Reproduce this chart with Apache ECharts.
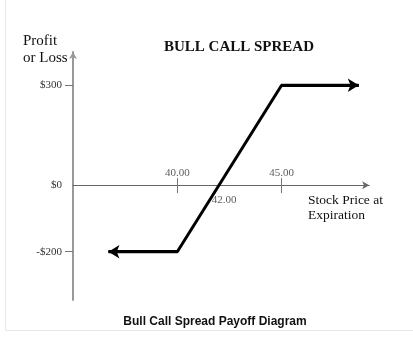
<!DOCTYPE html>
<html>
<head>
<meta charset="utf-8">
<script src="https://cdn.jsdelivr.net/npm/echarts@6/dist/echarts.min.js"></script>
<style>html,body{margin:0;padding:0;background:#fff}#c{width:413px;height:348px}</style>
</head>
<body>
<div id="c"></div>
<script>
// Payoff path (stock price at expiration, profit/loss)
var priceX = [36.7, 40, 45, 48.7];
var payoff = [-200, -200, 300, 300];
// Tick values / labels
var yTickLabelValues = [300, 0, -200];
var yTickValues = [300, -200];
var xTopTickValues = [40, 45];
var xBottomLabelValues = [42];

var serif = 'Liberation Serif';
var chart = echarts.init(document.getElementById('c'));
var pts = priceX.map(function (x, i) { return [x, payoff[i]]; });

function money(v) { return v < 0 ? '-$' + (-v) : '$' + v; }
var tickLabelStyle = { fontFamily: serif, fontSize: 11, color: '#333' };

chart.setOption({
  animation: false,
  backgroundColor: '#fff',
  graphic: [{
    type: 'rect', silent: true,
    shape: { x: 5.5, y: -10, width: 430, height: 340.5 },
    style: { fill: 'none', stroke: '#e6e6e6', lineWidth: 1 }
  }],
  title: [
    { text: 'Profit\nor Loss', left: 18, top: 28, textStyle: { fontFamily: serif, fontSize: 15, fontWeight: 'normal', color: '#111', lineHeight: 17 } },
    { text: 'BULL CALL SPREAD', left: 234, top: 35, textAlign: 'center', textStyle: { fontFamily: serif, fontSize: 15, fontWeight: 'bold', color: '#111' } },
    { text: 'Stock Price at\nExpiration', left: 303, top: 188, textStyle: { fontFamily: serif, fontSize: 13.5, fontWeight: 'normal', color: '#111', lineHeight: 15 } },
    { text: 'Bull Call Spread Payoff Diagram', left: 210, top: 311, textAlign: 'center', textStyle: { fontFamily: 'Liberation Sans', fontSize: 12, fontWeight: 'bold', color: '#111' } }
  ],
  grid: { left: 73, right: 43.8, top: 52, bottom: 48, containLabel: false },
  xAxis: [{
    type: 'value', min: 35, max: 49.2, position: 'bottom',
    axisLine: { show: true, onZero: true, onZeroAxisIndex: 0, symbol: ['none', 'arrow'], symbolSize: [6, 7], lineStyle: { color: '#666', width: 1 } },
    axisTick: { show: true, customValues: xTopTickValues, length: 8, lineStyle: { color: '#777', width: 1 } },
    axisLabel: { show: false },
    splitLine: { show: false }
  }, {
    type: 'value', min: 35, max: 49.2, position: 'top',
    axisLine: { show: false, onZero: true, onZeroAxisIndex: 0 },
    axisTick: { show: true, customValues: xTopTickValues, length: 7, lineStyle: { color: '#777', width: 1 } },
    axisLabel: { show: false },
    splitLine: { show: false }
  }],
  yAxis: {
    type: 'value', min: -345, max: 400,
    axisLine: { show: true, onZero: false, symbol: ['none', 'arrow'], symbolSize: [6, 7], lineStyle: { color: '#999', width: 2 } },
    axisTick: { show: true, customValues: yTickValues, length: 8, lineStyle: { color: '#777', width: 1 } },
    axisLabel: { show: true, customValues: yTickLabelValues, margin: 11, fontFamily: serif, fontSize: 11, color: '#333', formatter: money },
    splitLine: { show: false }
  },
  series: [{
    type: 'line', xAxisIndex: 0, data: pts, showSymbol: false, symbol: 'none', clip: false,
    lineStyle: { color: '#000', width: 3 },
    markLine: {
      silent: true, animation: false,
      lineStyle: { color: '#000', width: 3, type: 'solid' },
      label: { show: false },
      symbolSize: [10, 11],
      data: [
        [{ coord: pts[0], symbol: 'arrow' }, { coord: pts[1], symbol: 'none' }],
        [{ coord: pts[2], symbol: 'none' }, { coord: pts[3], symbol: 'arrow' }]
      ]
    }
  }, {
    type: 'scatter', xAxisIndex: 0, silent: true, symbolSize: 0,
    data: xTopTickValues.map(function (v) { return [v, 0]; }),
    label: Object.assign({ show: true, position: 'top', distance: 7, formatter: function (p) { return p.value[0].toFixed(2); } }, tickLabelStyle)
  }, {
    type: 'scatter', xAxisIndex: 0, silent: true, symbolSize: 0,
    data: xBottomLabelValues.map(function (v) { return [v, 0]; }),
    label: Object.assign({ show: true, position: 'bottom', distance: 9, offset: [5, 0], formatter: function (p) { return p.value[0].toFixed(2); } }, tickLabelStyle)
  }]
});
</script>
</body>
</html>
